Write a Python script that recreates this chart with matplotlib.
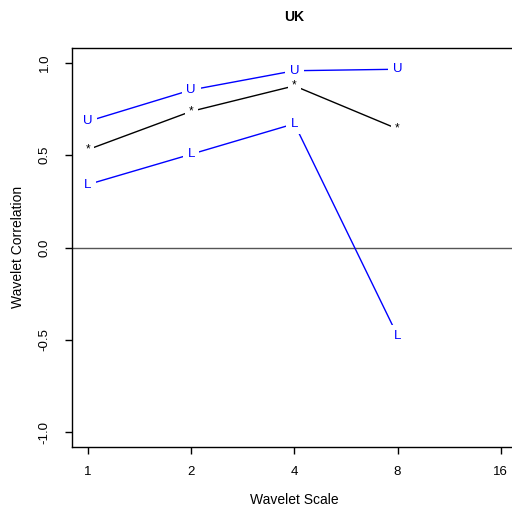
import numpy as np
import matplotlib
matplotlib.use("Agg")
import matplotlib.pyplot as plt

# wavelet scales and correlation estimates
scales = [1, 2, 4, 8]
upper = [0.683, 0.853, 0.957, 0.965]
estimate = [0.530, 0.737, 0.875, 0.642]
lower = [0.341, 0.505, 0.670, -0.477]
xticks = [1, 2, 4, 8, 16]
yticks = [-1.0, -0.5, 0.0, 0.5, 1.0]

plt.rcParams['font.family'] = ['Liberation Sans', 'DejaVu Sans']

fig = plt.figure(figsize=(5.12, 5.13), dpi=100)
W, H = 512, 513
left_px, right_px = 71.5, 517.2
top_px, bot_px = 48, 447
ax = fig.add_axes([left_px / W, 1 - bot_px / H, (right_px - left_px) / W, (bot_px - top_px) / H])

ax.set_xscale('log', base=2)
ax.set_xlim(2 ** -0.16, 2 ** 4.16)
ax.set_ylim(-1.08, 1.08)

# zero reference line
ax.axhline(0, color='#555555', lw=1, zorder=1)

def series(y, label, color, size):
    ax.plot(scales, y, color=color, lw=1, zorder=2)
    for x, v in zip(scales, y):
        ax.text(x, v, label, color=color, fontsize=size, ha='center', va='center', zorder=3,
                bbox=dict(boxstyle='square,pad=0.35', fc='white', ec='none'))

series(upper, 'U', 'blue', 9.5)
series(estimate, '*', 'black', 8.5)
series(lower, 'L', 'blue', 9.5)

ax.set_xticks(xticks)
ax.set_xticklabels([str(t) for t in xticks])
ax.xaxis.set_minor_locator(matplotlib.ticker.NullLocator())
ax.set_yticks(yticks)
ax.set_yticklabels(['%.1f' % t for t in yticks], rotation=90, va='center')
ax.tick_params(axis='x', length=5, width=1, pad=9, labelsize=9.5)
ax.tick_params(axis='y', length=5, width=1, pad=10, labelsize=9.5)
for s in ax.spines.values():
    s.set_linewidth(1)

fig.text((left_px + right_px) / 2 / W, 1 - 17 / H, 'UK', ha='center', va='center',
         fontsize=10, fontweight='bold')
fig.text((left_px + right_px) / 2 / W, 1 - 500 / H, 'Wavelet Scale', ha='center', va='center', fontsize=10)
fig.text(18 / W, 1 - 247 / H, 'Wavelet Correlation', ha='center', va='center', rotation=90, fontsize=10)

fig.savefig('out.png', dpi=100)
